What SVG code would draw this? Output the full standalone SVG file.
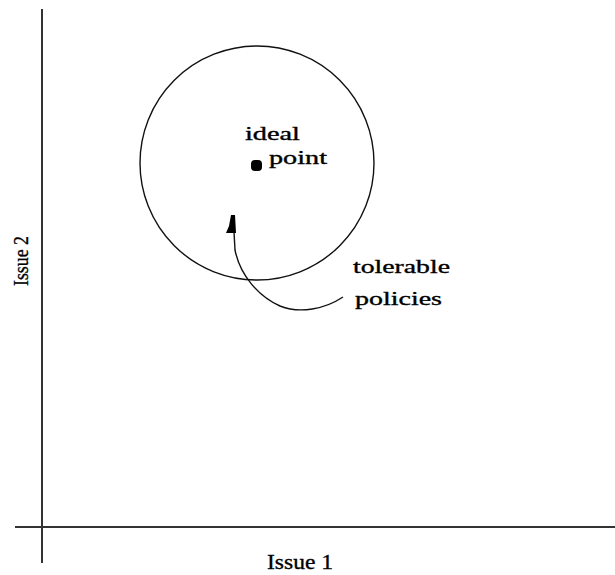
<svg xmlns="http://www.w3.org/2000/svg" width="615" height="575" viewBox="0 0 615 575">
<style>
.t{font-family:"Liberation Serif","DejaVu Serif",serif;fill:#000;stroke:#000;stroke-width:0.35;}
.ax{stroke:#333;stroke-width:2;fill:none;}
.ln{stroke:#111;stroke-width:1.4;fill:none;}
</style>
<rect width="615" height="575" fill="#fff"/>
<g id="axes">
<line class="ax" x1="42" y1="9" x2="42" y2="563"/>
<line class="ax" x1="15" y1="527" x2="615" y2="527"/>
</g>
<g id="tolerance-circle">
<circle class="ln" cx="257" cy="163" r="117"/>
</g>
<g id="ideal-point">
<rect x="251" y="160" width="11" height="11" rx="4" fill="#000"/>
<text class="t" x="245" y="140" font-size="19" textLength="55" lengthAdjust="spacingAndGlyphs">ideal</text>
<text class="t" x="269" y="164" font-size="19" textLength="58" lengthAdjust="spacingAndGlyphs">point</text>
</g>
<g id="tolerable-label">
<text class="t" x="353" y="273" font-size="19" textLength="97" lengthAdjust="spacingAndGlyphs">tolerable</text>
<text class="t" x="355" y="305" font-size="19" textLength="87" lengthAdjust="spacingAndGlyphs">policies</text>
</g>
<g id="connectors">
<path class="ln" d="M 343 297 C 325 309, 300 314, 280 306 C 258 296, 240 275, 235 250 L 234 232"/>
<polygon points="231,215 235,215 236,233 226,233 229,226" fill="#000"/>
</g>
<g id="axis-labels">
<text class="t" x="267" y="569" font-size="22" textLength="66" lengthAdjust="spacingAndGlyphs">Issue 1</text>
<text class="t" transform="translate(28,286) rotate(-90)" font-size="22" textLength="50" lengthAdjust="spacingAndGlyphs">Issue 2</text>
</g>
</svg>
